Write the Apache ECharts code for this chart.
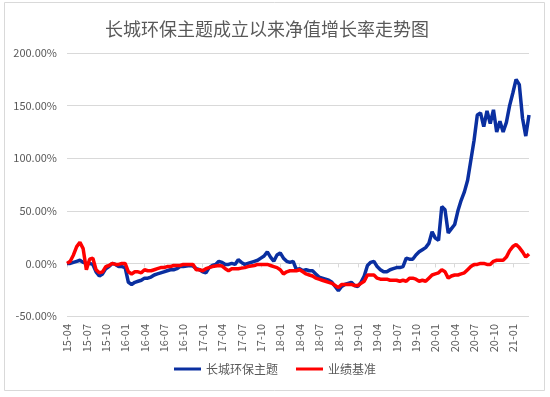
<!DOCTYPE html>
<html>
<head>
<meta charset="utf-8">
<script src="https://cdn.jsdelivr.net/npm/echarts@6/dist/echarts.min.js"></script>
<style>
html, body { margin: 0; padding: 0; background: #fff; }
#chart { width: 550px; height: 397px; }
</style>
</head>
<body>
<div id="chart"></div>
<script>
// 半月一个点，2015-04 至 2021-03
const tickLabels = ['15-04', '15-07', '15-10', '16-01', '16-04', '16-07', '16-10', '17-01', '17-04', '17-07', '17-10',
  '18-01', '18-04', '18-07', '18-10', '19-01', '19-04', '19-07', '19-10', '20-01', '20-04', '20-07', '20-10', '21-01']

const fundName = '长城环保主题'
const benchName = '业绩基准'

const fundValues = [
  0, 0, 1, 2, 3, 1, 0, 0, -1, -8, -12, -10, -5, -3, 0, -1, -3, -3, -4, -18,
  -20, -18, -17, -16, -14, -14, -13, -11, -10, -9, -8, -7, -6, -6, -5, -3, -3, -2.5, -2, -2.5,
  -5, -6, -8, -9, -4, -2, -1, 2, 1, -1, -1, 0, -1, 3.5, 1, -1, 0, 1, 2, 3,
  5, 7, 11, 6, 2, 8, 10, 5, 2, 1, 2, -6, -5, -7, -6, -7, -7, -10, -13, -14,
  -15, -16, -18, -22, -26, -22, -20, -19, -18, -21, -22, -18, -12, -2, 1, 2, -3, -6, -8, -8,
  -6, -5, -4, -4, -3, 5, 4, 4, 8, 11, 13, 15, 19, 30, 24, 22, 54, 51, 29, 33,
  37, 50, 60, 68, 79, 98, 117, 141, 143, 130, 145, 133, 146, 125, 135, 125, 134, 150, 162, 175,
  170, 138, 121, 141
]

const benchValues = [
  0, 2, 8, 16, 20, 14, -6, 4, 5, -6, -9, -8, -3, -2, 0, -1, -1, 0, 0, -8,
  -10, -8, -8, -9, -6, -7, -7, -6, -5, -4, -4, -3, -3, -2, -2, -2, -1, -1, -1, -1,
  -6, -6, -7, -5, -4, -3, -2.5, -2, -2.5, -5, -7, -5, -5, -5, -4.5, -4, -3, -2.5, -2, -1,
  -1, -1, -1, -2, -3, -4, -6, -10, -8, -7, -7, -7, -6, -8, -10, -11, -12, -14, -15, -16,
  -17, -18, -19, -21, -23, -20, -20, -20, -20, -21, -21, -19, -17, -11, -11, -11, -14, -15, -15, -15,
  -16, -16, -16, -17, -16, -17, -14, -14, -15, -17, -16, -17, -14, -11, -10, -9, -6, -8, -14, -12,
  -11, -11, -10, -9, -6, -3, -1, -1, 0, 0, -1, -1, 2, 3, 3, 3, 6, 12, 16, 18,
  15, 11, 6, 9
]

const yTicks = [-50, 0, 50, 100, 150, 200]

// 日期类目
const categories = []
for (let i = 0; i < fundValues.length; i++) {
  const m = 3 + Math.floor(i / 2) // 从 2015-04 开始 (月份从0计)
  const yy = 15 + Math.floor(m / 12)
  const mm = (m % 12) + 1
  categories.push(yy + '-' + (mm < 10 ? '0' + mm : mm) + (i % 2 === 0 ? '-01' : '-16'))
}

const showTick = function (idx, val) {
  return val.slice(6) === '01' && tickLabels.indexOf(val.slice(0, 5)) > -1
}

const myChart = echarts.init(document.getElementById('chart'))
const option = {
  backgroundColor: '#fff',
  animation: false,
  textStyle: { fontFamily: '"Noto Sans CJK SC", "Liberation Sans", sans-serif' },
  graphic: [{
    type: 'rect',
    shape: { x: 4.5, y: 2.5, width: 540, height: 388 },
    style: { fill: 'none', stroke: '#d9d9d9', lineWidth: 1 },
    silent: true
  }],
  title: {
    text: '长城环保主题成立以来净值增长率走势图',
    left: 100,
    top: 15,
    textStyle: {
      fontSize: 18,
      fontWeight: 'normal',
      color: '#595959',
      fontFamily: '"Noto Sans CJK SC", sans-serif'
    }
  },
  legend: {
    bottom: 17,
    left: 'center',
    itemWidth: 27,
    itemHeight: 3,
    itemGap: 18,
    icon: 'rect',
    textStyle: { fontSize: 12, color: '#595959' },
    data: [fundName, benchName]
  },
  grid: {
    top: 53,
    left: 67,
    right: 21,
    bottom: 81,
    containLabel: false
  },
  xAxis: {
    type: 'category',
    data: categories,
    boundaryGap: false,
    axisLine: { // x轴
      show: true,
      lineStyle: { color: '#d9d9d9', width: 1 }
    },
    axisTick: {
      show: true,
      interval: showTick,
      length: 4,
      lineStyle: { color: '#d9d9d9' }
    },
    axisLabel: {
      interval: showTick,
      rotate: 90,
      margin: 8,
      fontSize: 11,
      color: '#595959',
      formatter: function (val) { return val.slice(0, 5) }
    },
    splitLine: { show: false }
  },
  yAxis: {
    type: 'value',
    min: yTicks[0],
    max: yTicks[yTicks.length - 1],
    interval: 50,
    axisLine: { show: false },
    axisTick: { show: false },
    axisLabel: {
      fontSize: 11,
      color: '#595959',
      margin: 10,
      formatter: function (v) { return v.toFixed(2) + '%' }
    },
    splitLine: { lineStyle: { color: '#d9d9d9', width: 1 } }
  },
  series: [{
    name: fundName,
    type: 'line',
    data: fundValues,
    showSymbol: false,
    symbol: 'none',
    lineStyle: { color: '#0a2fa0', width: 3.5 },
    itemStyle: { color: '#0a2fa0' }
  }, {
    name: benchName,
    type: 'line',
    data: benchValues,
    showSymbol: false,
    symbol: 'none',
    lineStyle: { color: '#ff0000', width: 3.5 },
    itemStyle: { color: '#ff0000' }
  }]
}
myChart.setOption(option)
</script>
</body>
</html>
